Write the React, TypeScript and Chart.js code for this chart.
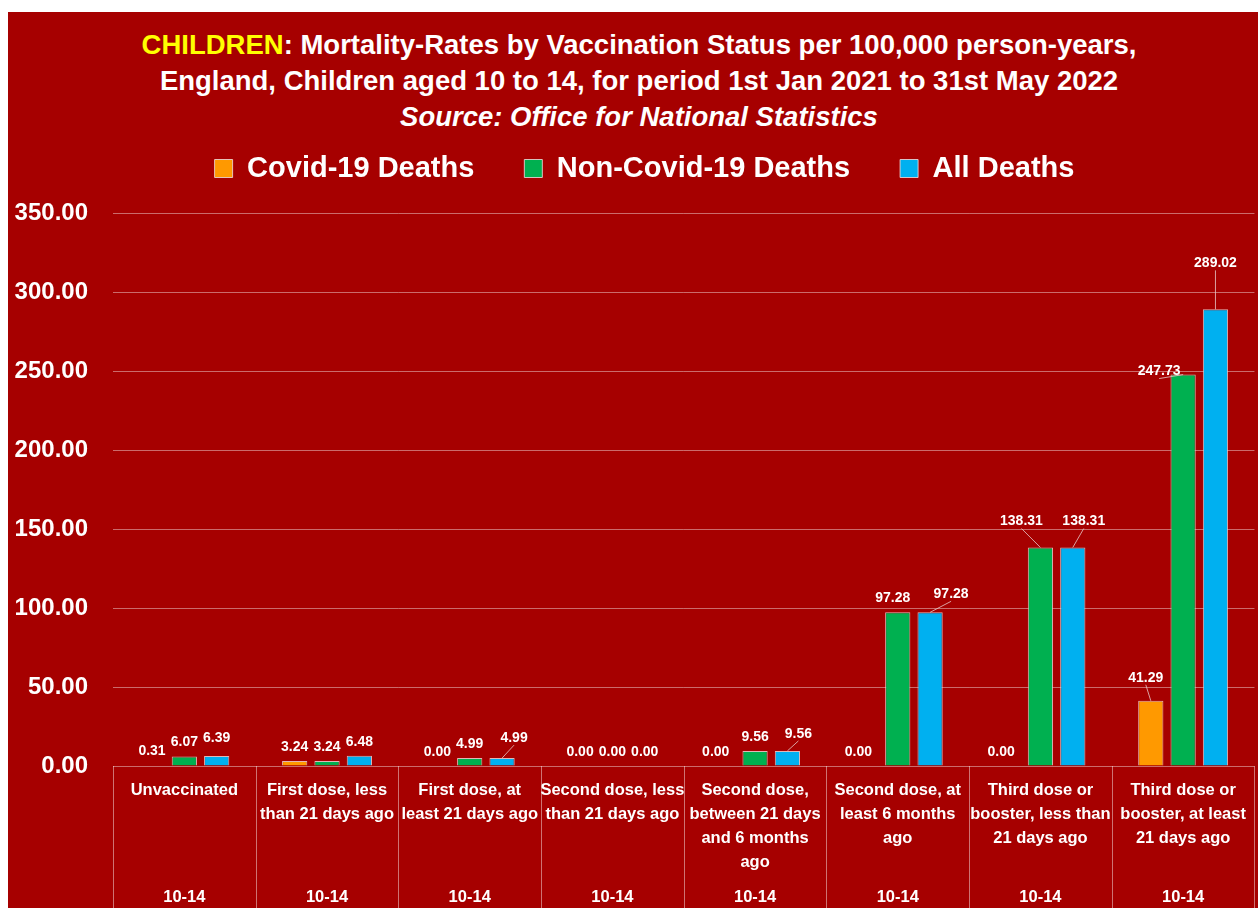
import React, { useEffect, useRef } from "react";
import { Chart, registerables } from "chart.js";

Chart.register(...registerables);

const categories: string[][] = [
  ["Unvaccinated"],
  ["First dose, less", "than 21 days ago"],
  ["First dose, at", "least 21 days ago"],
  ["Second dose, less", "than 21 days ago"],
  ["Second dose,", "between 21 days", "and 6 months", "ago"],
  ["Second dose, at", "least 6 months", "ago"],
  ["Third dose or", "booster, less than", "21 days ago"],
  ["Third dose or", "booster, at least", "21 days ago"],
];
const ageGroup = "10-14";
const seriesNames = ["Covid-19 Deaths", "Non-Covid-19 Deaths", "All Deaths"];
const covidDeaths = [0.31, 3.24, 0.0, 0.0, 0.0, 0.0, 0.0, 41.29];
const nonCovidDeaths = [6.07, 3.24, 4.99, 0.0, 9.56, 97.28, 138.31, 247.73];
const allDeaths = [6.39, 6.48, 4.99, 0.0, 9.56, 97.28, 138.31, 289.02];
const yMin = 0;
const yMax = 350;
const yStep = 50;

const FONT = "'Liberation Sans', Arial, sans-serif";
const BG = "#A60000";
const seriesColors = ["#FF9900", "#00B050", "#00B0F0"];

// label nudges (style only): "series-category" -> [dx, dy]
const labelNudges: Record<string, [number, number]> = {
  "0-4": [-7, 0],
  "0-5": [-7, 0],
  "0-6": [-7, 0],
  "0-7": [-5, -9],
  "1-5": [-5, 0],
  "1-6": [-19, -12],
  "1-7": [-24, 11],
  "2-0": [0, -4],
  "2-2": [12, -6],
  "2-4": [11, -3],
  "2-5": [21, -4],
  "2-6": [11, -12],
  "2-7": [0, -32],
};

const legendGapPlugin = {
  id: "legendGap",
  beforeInit(chart: any) {
    const legend = chart.legend;
    if (!legend) return;
    const origFit = legend.fit;
    legend.fit = function () {
      origFit.bind(this)();
      this.height += 20;
    };
  },
  afterLayout(chart: any) {
    const legend = chart.legend;
    if (!legend) return;
    legend.left += 12;
    legend.right += 12;
  },
};

const dataLabelPlugin = {
  id: "dataLabels",
  afterDatasetsDraw(chart: any) {
    const ctx = chart.ctx;
    ctx.save();
    ctx.font = `bold 14px ${FONT}`;
    ctx.textAlign = "center";
    ctx.textBaseline = "middle";
    chart.data.datasets.forEach((ds: any, si: number) => {
      const meta = chart.getDatasetMeta(si);
      meta.data.forEach((bar: any, ci: number) => {
        const v = ds.data[ci] as number;
        const nudge = labelNudges[`${si}-${ci}`] || [0, 0];
        const x = bar.x + nudge[0];
        const y = bar.y - 14 + nudge[1];
        const txt = v.toFixed(2);
        if (Math.abs(nudge[0]) > 8 || nudge[1] < -8) {
          ctx.strokeStyle = "rgba(230,200,200,0.8)";
          ctx.lineWidth = 1;
          ctx.beginPath();
          ctx.moveTo(x, y + 7);
          ctx.lineTo(bar.x, bar.y);
          ctx.stroke();
        }
        ctx.fillStyle = "#FFFFFF";
        ctx.fillText(txt, x, y);
      });
    });
    ctx.restore();
  },
};

const categoryDividerPlugin = {
  id: "categoryDividers",
  afterDraw(chart: any) {
    const ctx = chart.ctx;
    const xs = chart.scales.x;
    const area = chart.chartArea;
    const n = categories.length;
    const bottom = chart.height;
    ctx.save();
    ctx.strokeStyle = "rgba(255,255,255,0.45)";
    ctx.lineWidth = 1;
    const step = xs.getPixelForValue(1) - xs.getPixelForValue(0);
    for (let i = 0; i <= n; i++) {
      const x = Math.round(xs.getPixelForValue(i) - step / 2) + 0.5;
      ctx.beginPath();
      ctx.moveTo(x, area.bottom);
      ctx.lineTo(x, bottom);
      ctx.stroke();
    }
    ctx.fillStyle = "#FFFFFF";
    ctx.font = `bold 16.5px ${FONT}`;
    ctx.textAlign = "center";
    ctx.textBaseline = "middle";
    for (let i = 0; i < n; i++) {
      ctx.fillText(ageGroup, xs.getPixelForValue(i), area.bottom + 131);
    }
    ctx.restore();
  },
};

function BarChart() {
  const ref = useRef<HTMLCanvasElement | null>(null);
  useEffect(() => {
    if (!ref.current) return;
    const values = [covidDeaths, nonCovidDeaths, allDeaths];
    const chart = new Chart(ref.current, {
      type: "bar",
      data: {
        labels: categories,
        datasets: values.map((d, i) => ({
          label: seriesNames[i],
          data: d,
          backgroundColor: seriesColors[i],
          borderColor: "rgba(235,215,215,0.85)",
          borderWidth: 1,
          categoryPercentage: 0.68,
          barPercentage: 0.78,
        })),
      },
      options: {
        animation: false,
        responsive: false,
        maintainAspectRatio: false,
        layout: { padding: { left: 0, right: 1, top: 0, bottom: 0 } },
        plugins: {
          title: { display: false },
          tooltip: { enabled: false },
          legend: {
            display: true,
            position: "top",
            labels: {
              color: "#FFFFFF",
              font: { family: FONT, size: 29, weight: "bold" },
              boxWidth: 18,
              boxHeight: 18,
              padding: 50,
            },
          },
        },
        scales: {
          x: {
            grid: { display: false, drawTicks: false },
            border: { display: false },
            ticks: {
              color: "#FFFFFF",
              font: { family: FONT, size: 16.5, weight: "bold", lineHeight: 24 / 16.5 },
              padding: 12,
              maxRotation: 0,
              minRotation: 0,
              autoSkip: false,
            },
            afterFit(scale: any) {
              scale.height = 142;
            },
          },
          y: {
            min: yMin,
            max: yMax,
            grid: {
              color: "rgba(255,255,255,0.42)",
              lineWidth: 1,
              drawTicks: false,
            },
            border: { display: false },
            ticks: {
              stepSize: yStep,
              color: "#FFFFFF",
              font: { family: FONT, size: 24, weight: "bold" },
              padding: 25,
              callback: (v: any) => Number(v).toFixed(2),
            },
            afterFit(scale: any) {
              scale.width = 105;
            },
          },
        },
      },
      plugins: [legendGapPlugin, dataLabelPlugin, categoryDividerPlugin],
    });
    return () => chart.destroy();
  }, []);
  return (
    <canvas
      ref={ref}
      width={1250}
      height={804}
      style={{ position: "absolute", left: 0, top: 92, width: 1250, height: 804 }}
    />
  );
}

export default function App() {
  return (
    <div
      style={{
        position: "fixed",
        left: 8,
        top: 12,
        width: 1250,
        height: 896,
        background: BG,
        overflow: "hidden",
        fontFamily: FONT,
      }}
    >
      <div
        style={{
          position: "absolute",
          left: 0,
          top: 15,
          width: 1262,
          textAlign: "center",
          color: "#FFFFFF",
          fontWeight: "bold",
          fontSize: 27.5,
          lineHeight: "36px",
        }}
      >
        <div>
          <span style={{ color: "#FFFF00" }}>CHILDREN</span>: Mortality-Rates by Vaccination Status per 100,000 person-years,
        </div>
        <div>England, Children aged 10 to 14, for period 1st Jan 2021 to 31st May 2022</div>
        <div style={{ fontStyle: "italic" }}>Source: Office for National Statistics</div>
      </div>
      <BarChart />
    </div>
  );
}
